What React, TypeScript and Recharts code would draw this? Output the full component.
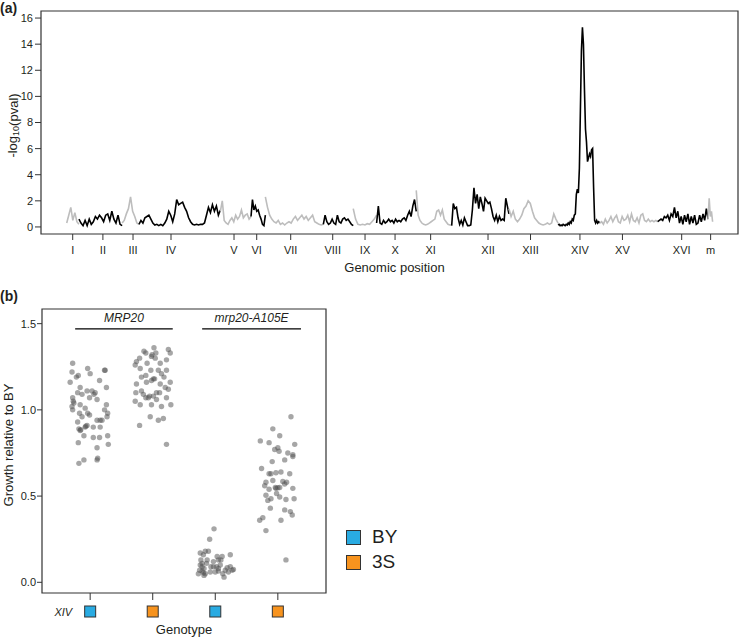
import React from 'react';
import {
  LineChart, Line, XAxis, YAxis, ReferenceArea, ReferenceLine, Label,
  ScatterChart, Scatter, Legend,
} from 'recharts';

// ---- panel (a): genome scan ----
const chromNames = ['I', 'II', 'III', 'IV', 'V', 'VI', 'VII', 'VIII', 'IX', 'X', 'XI', 'XII', 'XIII', 'XIV', 'XV', 'XVI', 'm'];
// chromosome sizes in Mb
const chromLengths = [0.230, 0.813, 0.317, 1.532, 0.577, 0.270, 1.091, 0.563, 0.440, 0.746, 0.667, 1.078, 0.924, 0.784, 1.091, 0.948, 0.086];
// label positions on the cumulative genome (Mb)
const chromTicks = [0.113, 0.681, 1.248, 1.963, 3.149, 3.576, 4.216, 5.007, 5.615, 6.18, 6.85, 7.93, 8.73, 9.66, 10.46, 11.575, 12.12];
const lodTicks = [0, 2, 4, 6, 8, 10, 12, 14, 16];

const lodI = [0.3, 0.9, 1.5, 0.5, 1.1, 0.4, 0.2];
const lodII = [0.6, 0.3, 0.1, 0.5, 0.1, 0.6, 0.2, 0.4, 0.8, 0.6, 0.9, 0.7, 0.4, 0.9, 1.0, 0.5, 1.2, 0.6, 0.3, 0.9, 0.2, 0.1];
const lodIII = [0.3, 0.5, 1.0, 1.4, 2.3, 1.2, 0.8, 0.3, 0.2];
const lodIV = [0.2, 0.5, 0.3, 0.7, 0.8, 0.9, 0.6, 0.3, 0.15, 0.2, 0.1, 0.2, 0.1, 0.3, 0.6, 1.2, 0.9, 0.4, 1.0, 2.1, 1.7, 1.8, 1.9, 1.5, 1.2, 0.7, 0.4, 0.2, 0.15, 0.2, 0.15, 0.2, 0.2, 0.3, 0.9, 1.5, 1.1, 1.7, 1.2, 1.6, 0.9, 1.3];
const lodV = [1.2, 2.0, 0.5, 0.3, 0.2, 0.5, 0.7, 0.4, 0.9, 0.6, 0.8, 1.3, 0.7, 0.9, 1.0, 0.6, 0.8];
const lodVI = [0.8, 2.1, 1.3, 1.6, 1.2, 1.3, 0.9, 0.6, 0.2, 0.1, 0.9];
const lodVII = [2.3, 1.5, 0.9, 0.6, 0.4, 0.3, 0.5, 0.2, 0.3, 0.15, 0.3, 0.4, 0.3, 0.6, 0.8, 0.5, 0.7, 0.9, 0.6, 0.8, 0.5, 0.7, 0.9, 0.4, 0.3, 0.2, 0.15, 0.2];
const lodVIII = [0.2, 0.9, 0.4, 0.2, 0.3, 0.6, 0.3, 0.2, 0.9, 0.4, 0.3, 0.6, 0.7, 0.5, 0.6, 0.4, 0.2, 0.1];
const lodIX = [1.4, 0.6, 0.2, 0.15, 0.2, 0.15, 0.25, 0.2, 0.4, 0.6, 0.9];
const lodX = [0.3, 1.6, 0.3, 0.2, 0.5, 0.3, 0.4, 0.6, 0.4, 0.5, 0.3, 0.6, 0.4, 0.5, 0.4, 0.6, 0.7, 0.5, 0.9, 1.2, 0.8, 1.6, 2.1, 1.2];
const lodXI = [2.8, 0.9, 0.5, 0.3, 0.2, 0.15, 0.2, 0.3, 0.4, 0.5, 0.6, 1.2, 1.3, 0.9, 1.3, 0.6, 0.4, 0.2, 0.15, 0.15];
const lodXII = [0.1, 1.8, 1.4, 1.5, 0.7, 0.2, 0.5, 0.15, 0.7, 0.4, 0.1, 0.1, 0.15, 1.3, 3.0, 1.8, 2.5, 1.4, 2.3, 1.8, 1.2, 2.2, 2.0, 1.8, 1.9, 1.4, 0.8, 0.5, 0.9, 0.4, 0.8, 0.5, 0.6, 0.5, 2.2, 1.6, 1.0];
const lodXIII = [1.4, 0.8, 1.2, 0.6, 0.4, 0.6, 0.9, 1.4, 1.6, 2.0, 1.8, 1.2, 0.7, 0.5, 0.3, 0.2, 0.15, 0.2, 0.3, 0.2, 0.3, 1.0, 0.6, 0.3];
const lodXIV = [0.15, 0.2, 0.1, 0.15, 0.1, 0.2, 0.15, 0.1, 0.2, 0.15, 0.3, 0.2, 0.4, 0.3, 0.6, 0.5, 0.9, 1.0, 2.5, 2.9, 2.6, 4.5, 9.0, 13.5, 15.3, 14.0, 10.5, 7.5, 6.5, 5.0, 5.3, 5.6, 5.4, 5.9, 6.0, 3.0, 0.5, 0.3, 0.5, 0.3, 0.4, 0.3];
const lodXV = [0.3, 0.4, 0.2, 0.6, 0.3, 0.5, 0.8, 0.4, 0.7, 0.9, 0.4, 0.3, 0.8, 0.5, 0.6, 0.9, 0.4, 1.0, 0.5, 0.4, 0.7, 0.3, 0.9, 1.0, 0.5, 0.4, 0.6, 0.4, 0.5, 0.4, 0.5, 0.4];
const lodXVI = [0.4, 0.5, 0.6, 0.5, 0.8, 0.7, 0.9, 0.5, 1.0, 0.8, 1.5, 0.7, 1.2, 0.3, 0.8, 0.2, 0.9, 0.4, 1.0, 0.2, 0.8, 0.3, 0.9, 0.2, 0.3, 0.9, 0.4, 1.0, 0.5, 1.4, 0.6];
const lodM = [0.6, 2.2, 0.8, 1.2, 0.4];

const lodByChrom = [lodI, lodII, lodIII, lodIV, lodV, lodVI, lodVII, lodVIII, lodIX, lodX, lodXI, lodXII, lodXIII, lodXIV, lodXV, lodXVI, lodM];

// ---- panel (b): growth per genotype, [jitter, growth] ----
const groupPositions = [1, 2, 3, 4];
const genotypeXIV = ['BY', '3S', 'BY', '3S'];
const legendItems = ['BY', '3S'];

const mrp20_BY = [
  [-0.28, 1.27], [-0.29, 1.22], [-0.19, 1.2], [-0.22, 1.19], [-0.04, 1.24], [-0.32, 1.16], [-0.16, 1.13], [0.24, 1.23], [0.23, 1.23],
  [0.15, 1.17], [0.26, 1.13], [-0.05, 1.11], [-0.2, 1.1], [-0.13, 1.09], [0.03, 1.11], [-0.01, 1.07], [0.08, 1.1], [0.06, 1.09],
  [-0.28, 1.07], [-0.27, 1.05], [-0.29, 1.02], [-0.28, 1.0], [-0.16, 1.03], [-0.08, 1.01], [-0.04, 0.98], [-0.01, 0.97], [0.11, 1.06],
  [0.26, 1.03], [0.23, 1.0], [0.28, 0.98], [0.27, 0.96], [0.16, 0.94], [0.11, 0.94], [-0.17, 0.98], [-0.13, 0.96], [-0.2, 0.93],
  [-0.18, 0.89], [-0.16, 0.88], [-0.15, 0.885], [-0.08, 0.9], [-0.05, 0.91], [-0.07, 0.905], [0.05, 0.9], [0.16, 0.9], [0.19, 0.94],
  [-0.1, 0.85], [0.05, 0.84], [0.15, 0.84], [0.28, 0.85], [-0.19, 0.81], [0.29, 0.8], [0.11, 0.78], [0.11, 0.71], [0.12, 0.72],
  [-0.18, 0.69], [-0.1, 0.71], [0.0, 1.21], [-0.26, 1.04],
];
const mrp20_3S = [
  [0.02, 1.36], [-0.14, 1.34], [-0.28, 1.26], [-0.11, 1.33], [0.05, 1.33], [0.25, 1.35], [0.28, 1.33], [-0.02, 1.31], [0.04, 1.3],
  [0.12, 1.27], [-0.2, 1.24], [-0.26, 1.28], [-0.09, 1.27], [0.09, 1.23], [0.22, 1.23], [0.14, 1.21], [-0.03, 1.23], [-0.11, 1.2],
  [-0.18, 1.19], [0.01, 1.18], [-0.02, 1.17], [0.18, 1.19], [0.28, 1.16], [0.12, 1.15], [0.2, 1.13], [-0.1, 1.16], [-0.26, 1.15],
  [0.25, 1.12], [0.06, 1.1], [-0.18, 1.11], [-0.27, 1.1], [-0.15, 1.09], [-0.11, 1.07], [-0.05, 1.08], [0.01, 1.08], [0.11, 1.1],
  [0.22, 1.07], [0.06, 1.06], [-0.28, 1.05], [-0.2, 1.03], [-0.02, 1.03], [0.14, 1.02], [0.29, 1.03], [-0.04, 0.96], [0.09, 0.94],
  [0.17, 0.95], [-0.21, 0.91], [0.22, 0.8], [-0.07, 1.07], [0.22, 1.29], [-0.21, 1.3], [-0.01, 1.32], [0.03, 1.18],
];
const a105e_BY = [
  [-0.02, 0.31], [-0.09, 0.25], [-0.24, 0.17], [-0.19, 0.16], [-0.16, 0.18], [-0.11, 0.18], [0.03, 0.15], [0.05, 0.13], [0.11, 0.15],
  [0.24, 0.16], [-0.23, 0.13], [-0.13, 0.13], [-0.03, 0.12], [-0.24, 0.1], [-0.21, 0.09], [-0.18, 0.08], [-0.25, 0.07], [-0.16, 0.05],
  [-0.18, 0.04], [-0.27, 0.05], [-0.08, 0.06], [-0.03, 0.09], [0.05, 0.08], [0.12, 0.05], [0.19, 0.085], [0.24, 0.09], [0.27, 0.07],
  [0.29, 0.075], [0.14, 0.03], [0.0, 0.06], [0.08, 0.1], [-0.07, 0.09], [0.05, 0.065], [0.16, 0.07], [0.21, 0.06], [-0.21, 0.11],
  [-0.14, 0.11], [0.02, 0.09], [0.09, 0.13], [-0.21, 0.065], [-0.19, 0.055],
];
const a105e_3S = [
  [0.21, 0.96], [-0.08, 0.89], [-0.28, 0.82], [0.03, 0.85], [-0.14, 0.81], [0.27, 0.8], [0.0, 0.78], [0.02, 0.76], [0.24, 0.74],
  [0.11, 0.71], [-0.09, 0.7], [-0.26, 0.66], [0.24, 0.73], [-0.03, 0.635], [-0.11, 0.63], [0.05, 0.64], [0.19, 0.63], [-0.19, 0.58],
  [-0.08, 0.59], [0.08, 0.585], [0.14, 0.58], [-0.21, 0.56], [-0.03, 0.545], [-0.14, 0.54], [0.03, 0.55], [0.11, 0.57], [0.24, 0.545],
  [-0.19, 0.505], [-0.02, 0.515], [-0.11, 0.485], [0.03, 0.495], [0.13, 0.48], [0.26, 0.485], [-0.12, 0.43], [0.11, 0.42], [0.2, 0.41],
  [0.23, 0.39], [-0.29, 0.36], [-0.24, 0.375], [0.05, 0.36], [-0.19, 0.3], [0.13, 0.13], [-0.05, 0.77], [-0.16, 0.475], [0.16, 0.75],
  [-0.04, 0.55], [0.0, 0.548], [-0.14, 0.63],
];
const growthGroups = [mrp20_BY, mrp20_3S, a105e_BY, a105e_3S];

const genotypeColors: Record<string, string> = { BY: '#29abe2', '3S': '#f7931e' };
const FONT = '"Liberation Sans", Arial, Helvetica, sans-serif';
const INK = '#231f20';

const A_X = [-0.484, 12.635];
const A_Y = [-0.54, 16.54];
const B_X = [0.23, 4.77];
const B_Y = [-0.062, 1.585];

const chromStarts = chromLengths.map((_, i) => chromLengths.slice(0, i).reduce((s, v) => s + v, 0));
const chromSeries = lodByChrom.map((vals, c) =>
  vals.map((lod, i) => ({ pos: chromStarts[c] + (chromLengths[c] * i) / (vals.length - 1), lod }))
);

const LodLabel = ({ viewBox }: any) => {
  const cx = viewBox.x + 1.5;
  const cy = viewBox.y + viewBox.height / 2 + 3;
  return (
    <text x={cx} y={cy} transform={`rotate(-90, ${cx}, ${cy})`} textAnchor="middle" dominantBaseline="central" fontSize={13} fill={INK}>
      -log<tspan dy={3} fontSize={9}>10</tspan><tspan dy={-3}>(pval)</tspan>
    </text>
  );
};

const GrowthLabel = ({ viewBox }: any) => {
  const cx = viewBox.x - 4;
  const cy = viewBox.y + viewBox.height / 2 - 6;
  return (
    <text x={cx} y={cy} transform={`rotate(-90, ${cx}, ${cy})`} textAnchor="middle" dominantBaseline="central" fontSize={13} fill={INK}>
      Growth relative to BY
    </text>
  );
};

const GenotypeTick = (props: any) => {
  const { x, y, payload } = props;
  const g = genotypeXIV[groupPositions.indexOf(payload.value)];
  return (
    <g>
      {payload.value === groupPositions[0] && (
        <text x={x - 18} y={y + 10} textAnchor="end" dominantBaseline="central" fontSize={11} fontStyle="italic" fill={INK}>XIV</text>
      )}
      <rect x={x - 5.5} y={y + 4} width={11} height={11} fill={genotypeColors[g]} stroke="#333" strokeWidth={1} />
    </g>
  );
};

const Dot = (props: any) => <circle cx={props.cx} cy={props.cy} r={2.7} fill="#4d4d4d" fillOpacity={0.5} />;

const renderLegend = () => (
  <div style={{ fontFamily: FONT, fontSize: 19, color: INK }}>
    {legendItems.map((g) => (
      <div key={g} style={{ display: 'flex', alignItems: 'center', height: 25 }}>
        <span style={{ width: 13, height: 13, background: genotypeColors[g], border: '1px solid #333', marginRight: 11 }} />
        <span>{g}</span>
      </div>
    ))}
  </div>
);

export default function App() {
  return (
    <div style={{ position: 'absolute', left: 0, top: 0, width: 740, height: 637, background: '#fff', fontFamily: FONT }}>
      <div style={{ position: 'absolute', left: 0, top: 0, fontSize: 14, lineHeight: '16px', fontWeight: 'bold', color: INK }}>(a)</div>
      <div style={{ position: 'absolute', left: 0, top: 288, fontSize: 14, lineHeight: '16px', fontWeight: 'bold', color: INK }}>(b)</div>

      <div style={{ position: 'absolute', left: 0, top: 0 }}>
        <LineChart width={740} height={280} margin={{ top: 11, right: 2, bottom: 4, left: 11 }}>
          <XAxis
            type="number"
            dataKey="pos"
            domain={A_X}
            allowDataOverflow
            ticks={chromTicks}
            interval={0}
            tickFormatter={(v: number) => chromNames[chromTicks.indexOf(v)]}
            axisLine={false}
            tickLine={{ stroke: '#333' }}
            tickSize={6}
            tickMargin={6}
            tick={{ fontSize: 11, fill: INK }}
            height={42}
          >
            <Label value="Genomic position" position="insideBottom" offset={4.5} dx={5} style={{ fontSize: 13, fill: INK }} />
          </XAxis>
          <YAxis
            type="number"
            domain={A_Y}
            allowDataOverflow
            ticks={lodTicks}
            interval={0}
            axisLine={false}
            tickLine={{ stroke: '#333' }}
            tickSize={6}
            tickMargin={2}
            tick={{ fontSize: 11, fill: INK }}
            width={30}
          >
            <Label content={<LodLabel />} />
          </YAxis>
          <ReferenceArea x1={A_X[0]} x2={A_X[1]} y1={A_Y[0]} y2={A_Y[1]} fill="none" stroke="#333" strokeWidth={1.2} ifOverflow="visible" />
          {chromSeries.map((d, c) => (
            <Line
              key={chromNames[c]}
              data={d}
              dataKey="lod"
              type="linear"
              stroke={c % 2 === 0 ? '#bdbdbd' : '#000'}
              strokeWidth={1.6}
              dot={false}
              isAnimationActive={false}
            />
          ))}
        </LineChart>
      </div>

      <div style={{ position: 'absolute', left: 0, top: 280 }}>
        <ScatterChart width={420} height={357} margin={{ top: 29, right: 94, bottom: 2, left: 12 }}>
          <XAxis
            type="number"
            dataKey="x"
            domain={B_X}
            allowDataOverflow
            ticks={groupPositions}
            interval={0}
            axisLine={false}
            tickLine={{ stroke: '#333' }}
            tickSize={7}
            tick={(p: any) => <GenotypeTick {...p} />}
            height={42}
          >
            <Label value="Genotype" position="insideBottom" offset={1} style={{ fontSize: 13, fill: INK }} />
          </XAxis>
          <YAxis
            type="number"
            dataKey="y"
            domain={B_Y}
            allowDataOverflow
            ticks={[0, 0.5, 1, 1.5]}
            interval={0}
            tickFormatter={(v: number) => v.toFixed(1)}
            axisLine={false}
            tickLine={{ stroke: '#333' }}
            tickSize={5}
            tickMargin={1}
            tick={{ fontSize: 11, fill: INK }}
            width={30}
          >
            <Label content={<GrowthLabel />} />
          </YAxis>
          <ReferenceArea x1={B_X[0]} x2={B_X[1]} y1={B_Y[0]} y2={B_Y[1]} fill="none" stroke="#333" strokeWidth={1.2} ifOverflow="visible" />
          <ReferenceLine
            segment={[{ x: 0.76, y: 1.47 }, { x: 2.32, y: 1.47 }]}
            stroke="#000"
            strokeWidth={1.2}
            ifOverflow="visible"
            label={{ value: 'MRP20', position: 'top', offset: 7, fontSize: 12, fontStyle: 'italic', fill: INK }}
          />
          <ReferenceLine
            segment={[{ x: 2.79, y: 1.47 }, { x: 4.37, y: 1.47 }]}
            stroke="#000"
            strokeWidth={1.2}
            ifOverflow="visible"
            label={{ value: 'mrp20-A105E', position: 'top', offset: 7, fontSize: 12, fontStyle: 'italic', fill: INK }}
          />
          {growthGroups.map((pts, gi) => (
            <Scatter
              key={gi}
              data={pts.map(([dx, v]) => ({ x: groupPositions[gi] + dx, y: v }))}
              shape={Dot}
              isAnimationActive={false}
            />
          ))}
          <Legend
            layout="vertical"
            align="center"
            verticalAlign="middle"
            content={renderLegend}
            wrapperStyle={{ left: 346, top: 244.5, width: 80 }}
          />
        </ScatterChart>
      </div>
    </div>
  );
}
